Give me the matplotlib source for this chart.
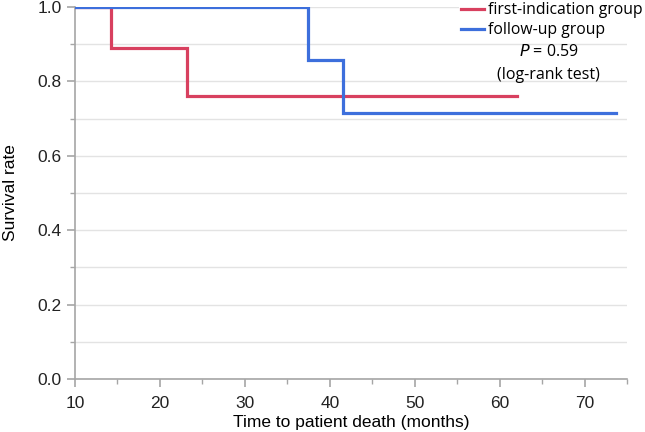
"""Kaplan-Meier style survival curves for the two groups."""

import matplotlib

matplotlib.use("Agg")
import matplotlib.pyplot as plt
from matplotlib.ticker import MultipleLocator

# step data (time in months, survival after each step)
first_t = [10, 14.2, 23.2, 62.1]
first_s = [1.0, 0.889, 0.762, 0.762]
follow_t = [10, 37.4, 41.6, 73.7]
follow_s = [1.0, 0.857, 0.714, 0.714]

labels = ["first-indication group", "follow-up group"]
x_ticks = [10, 20, 30, 40, 50, 60, 70]
y_ticks = [0.0, 0.2, 0.4, 0.6, 0.8, 1.0]

RED = "#d8405f"
BLUE = "#3d6fdc"
GREY = "#a6a6a6"

plt.rcParams["font.family"] = ["Liberation Sans", "DejaVu Sans"]

fig = plt.figure(figsize=(6.45, 4.32), dpi=100)
ax = fig.add_axes([75 / 645, 1 - 379 / 432, 552 / 645, 372 / 432])

ax.step(first_t, first_s, where="post", color=RED, lw=2.3, label=labels[0],
        solid_joinstyle="miter", zorder=3)
ax.step(follow_t, follow_s, where="post", color=BLUE, lw=2.3, label=labels[1],
        solid_joinstyle="miter", zorder=4)

ax.set_xlim(10, 75)
ax.set_ylim(0, 1.0)
ax.set_xticks(x_ticks)
ax.set_yticks(y_ticks)
ax.set_yticklabels([f"{v:.1f}" for v in y_ticks])
ax.xaxis.set_minor_locator(MultipleLocator(5))
ax.yaxis.set_minor_locator(MultipleLocator(0.1))

ax.grid(axis="y", which="both", color="#e3e3e3", lw=1, zorder=0)
for side in ("top", "right"):
    ax.spines[side].set_visible(False)
for side in ("left", "bottom"):
    ax.spines[side].set_color(GREY)
    ax.spines[side].set_linewidth(1.2)
ax.tick_params(which="major", length=6, color=GREY, width=1.2, labelsize=12.5,
               labelcolor="#222222")
ax.tick_params(axis="x", which="major", pad=6)
ax.tick_params(which="minor", length=3.5, color=GREY, width=1)

ax.set_xlabel("Time to patient death (months)", fontsize=12.5, labelpad=3)
ax.set_ylabel("Survival rate", fontsize=12.5, labelpad=14)

leg = fig.legend(loc="upper right", bbox_to_anchor=(1.0, 1.0), frameon=True,
                 edgecolor="none", facecolor="white", framealpha=1,
                 handlelength=1.5, handletextpad=0.25,
                 borderpad=0.1, labelspacing=0.25, borderaxespad=0.05,
                 prop={"family": ["Open Sans", "DejaVu Sans"], "size": 11.3})
leg.set_zorder(10)

ax.text(0.851, 0.879, "$P$ = 0.59", transform=fig.transFigure, ha="center",
        va="center", fontsize=11.5, family=["Open Sans", "DejaVu Sans"])
ax.text(0.851, 0.826, "(log-rank test)", transform=fig.transFigure, ha="center",
        va="center", fontsize=11.5, family=["Open Sans", "DejaVu Sans"])

fig.savefig("out.png", dpi=100)
plt.close(fig)
